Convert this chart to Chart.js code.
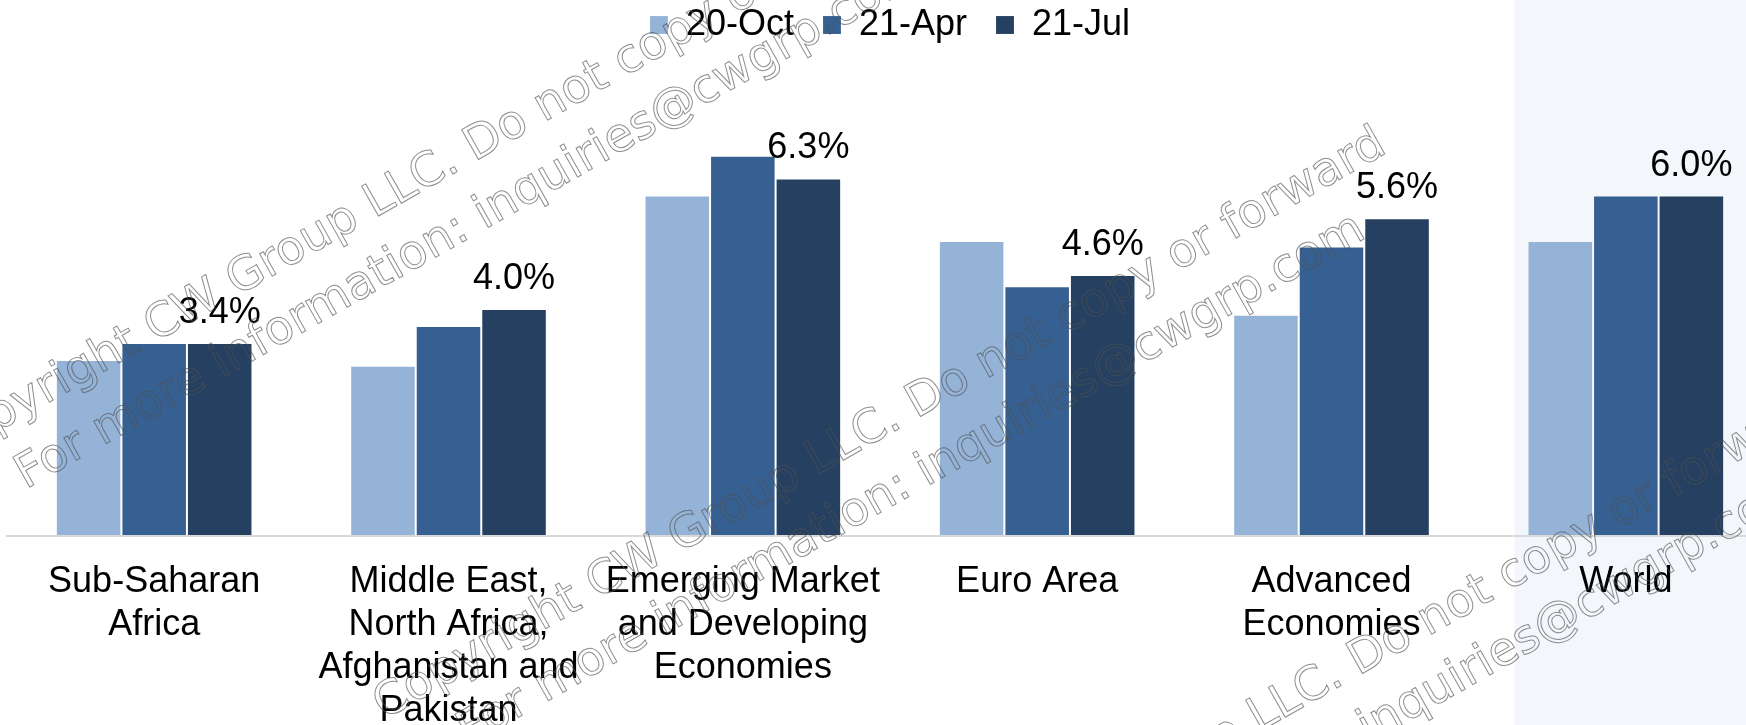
<!DOCTYPE html>
<html>
<head>
<meta charset="utf-8">
<script src="https://cdn.jsdelivr.net/npm/chart.js@4.4.1/dist/chart.umd.min.js"></script>
<style>
  html, body { margin: 0; padding: 0; overflow: hidden; background: #ffffff; }
  #wrap { width: 1773px; height: 725px; }
</style>
</head>
<body>
<div id="wrap"><canvas id="c" width="1773" height="725"></canvas></div>
<script>
// ---- data ----
const categories = [
  ['Sub-Saharan', 'Africa'],
  ['Middle East,', 'North Africa,', 'Afghanistan and', 'Pakistan'],
  ['Emerging Market', 'and Developing', 'Economies'],
  ['Euro Area'],
  ['Advanced', 'Economies'],
  ['World']
];
const seriesNames = ['20-Oct', '21-Apr', '21-Jul'];
const oct20 = [3.1, 3.0, 6.0, 5.2, 3.9, 5.2];
const apr21 = [3.4, 3.7, 6.7, 4.4, 5.1, 6.0];
const jul21 = [3.4, 4.0, 6.3, 4.6, 5.6, 6.0];
const seriesColors = ['#95B3D7', '#366092', '#254061'];
const labelledSeries = 2; // data labels on 21-Jul only

const watermarkLines = ['Copyright CW Group LLC. Do not copy or forward',
                        'For more information: inquiries@cwgrp.com'];

const FONT = '"Liberation Sans", Arial, sans-serif';

// background + highlighted "World" panel
const bgPlugin = {
  id: 'bg',
  beforeDraw(chart) {
    const ctx = chart.ctx, xs = chart.scales.x;
    ctx.save();
    ctx.fillStyle = '#ffffff';
    ctx.fillRect(0, 0, chart.width, chart.height);
    const cw = xs.width / categories.length;
    const x0 = xs.getPixelForValue(categories.length - 1) - 0.378 * cw;
    ctx.fillStyle = '#F3F6FB';
    ctx.fillRect(x0, 0, chart.width - x0, chart.height);
    ctx.restore();
  }
};

// value labels above the 21-Jul bars
const labelPlugin = {
  id: 'vlabels',
  afterDatasetsDraw(chart) {
    const ctx = chart.ctx;
    const meta = chart.getDatasetMeta(labelledSeries);
    const vals = chart.data.datasets[labelledSeries].data;
    ctx.save();
    ctx.font = '36px ' + FONT;
    ctx.fillStyle = '#000000';
    ctx.textAlign = 'center';
    ctx.textBaseline = 'alphabetic';
    meta.data.forEach((bar, i) => {
      ctx.fillText(vals[i].toFixed(1) + '%', bar.x, bar.y - 20);
    });
    ctx.restore();
  }
};

// outlined diagonal watermark
const wmPlugin = {
  id: 'wm',
  afterDraw(chart) {
    const ctx = chart.ctx;
    const starts = [[-58, 463], [384, 720], [826, 977]];
    const ang = -29.5 * Math.PI / 180;
    ctx.save();
    ctx.font = '47px "DejaVu Sans", sans-serif';
    ctx.strokeStyle = 'rgba(80,80,80,0.65)';
    ctx.lineWidth = 1;
    ctx.textBaseline = 'alphabetic';
    ctx.textAlign = 'left';
    starts.forEach(([sx, sy]) => {
      ctx.save();
      ctx.translate(sx, sy);
      ctx.rotate(ang);
      ctx.strokeText(watermarkLines[0], 0, 0);
      ctx.strokeText(watermarkLines[1], 60, 64);
      ctx.restore();
    });
    ctx.restore();
  }
};

// fix legend height so the plot area lines up
const legendHeightPlugin = {
  id: 'legendHeight',
  beforeInit(chart) {
    const orig = chart.legend.fit;
    chart.legend.fit = function () {
      orig.call(this);
      this.height = 104;
    };
  }
};

const datasets = [oct20, apr21, jul21].map((d, i) => ({
  label: seriesNames[i],
  data: d,
  backgroundColor: seriesColors[i],
  borderColor: 'rgba(255,255,255,0.12)',
  borderWidth: 1,
  categoryPercentage: 0.668,
  barPercentage: 1.0
}));

new Chart(document.getElementById('c'), {
  type: 'bar',
  data: { labels: categories, datasets },
  options: {
    responsive: false,
    animation: false,
    devicePixelRatio: 1,
    layout: { padding: { left: 7, right: 0, top: -22, bottom: 0 } },
    plugins: {
      legend: {
        position: 'top',
        labels: {
          font: { size: 36, family: FONT },
          color: '#000000',
          boxWidth: 18,
          boxHeight: 18,
          padding: 29
        }
      },
      tooltip: { enabled: false }
    },
    scales: {
      x: {
        grid: { display: false, drawTicks: false },
        border: { display: true, color: '#D9D9D9', width: 2, z: 1 },
        ticks: {
          font: { size: 36, family: FONT, lineHeight: 1.2 },
          color: '#000000',
          padding: 24,
          maxRotation: 0,
          minRotation: 0,
          autoSkip: false
        },
        afterFit(scale) { scale.height = 189; }
      },
      y: {
        display: false,
        min: 0,
        max: 8
      }
    }
  },
  plugins: [bgPlugin, labelPlugin, wmPlugin, legendHeightPlugin]
});
</script>
</body>
</html>
